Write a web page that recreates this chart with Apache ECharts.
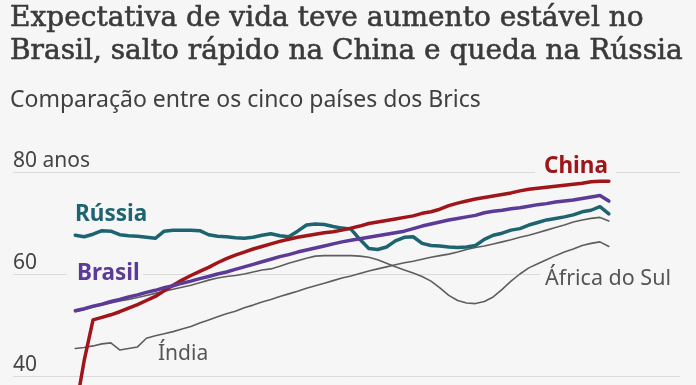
<!DOCTYPE html>
<html>
<head>
<meta charset="utf-8">
<script src="https://cdn.jsdelivr.net/npm/echarts@6/dist/echarts.min.js"></script>
<style>
html,body{margin:0;padding:0;background:#f6f6f6;}
#chart{width:696px;height:385px;}
</style>
</head>
<body>
<div id="chart"></div>
<script>
// ---- Data (life expectancy, years 1960–2020) ----
const firstYear = 1960;
const lastYear = 2020;
const years = [];
for (let y = firstYear; y <= lastYear; y++) years.push(y);

const china = [
  33.0, 43.0, 51.0, 51.5, 52.0, 52.6, 53.3, 54.0, 54.8, 55.6,
  56.7, 57.8, 58.8, 59.7, 60.5, 61.3, 62.2, 63.0, 63.7, 64.3,
  64.9, 65.4, 65.9, 66.4, 66.8, 67.2, 67.5, 67.8, 68.1, 68.3,
  68.6, 69.0, 69.4, 69.9, 70.2, 70.5, 70.8, 71.1, 71.4, 71.9,
  72.2, 72.7, 73.4, 73.9, 74.3, 74.7, 75.0, 75.3, 75.6, 75.9,
  76.3, 76.6, 76.8, 77.0, 77.2, 77.4, 77.6, 77.8, 78.1, 78.2,
  78.2
];
const brasil = [
  52.8, 53.2, 53.7, 54.1, 54.6, 55.0, 55.5, 55.9, 56.4, 56.8,
  57.3, 57.7, 58.2, 58.6, 59.1, 59.5, 60.0, 60.4, 60.9, 61.4,
  61.9, 62.4, 62.9, 63.4, 63.8, 64.3, 64.7, 65.1, 65.5, 65.9,
  66.3, 66.6, 66.9, 67.2, 67.5, 67.8, 68.1, 68.4, 68.9, 69.4,
  69.8, 70.2, 70.6, 70.9, 71.2, 71.5, 72.0, 72.3, 72.5, 72.8,
  73.0, 73.3, 73.6, 73.8, 74.1, 74.3, 74.5, 74.8, 75.1, 75.4,
  74.3
];
const russia = [
  67.6, 67.3, 67.8, 68.5, 68.4, 67.7, 67.5, 67.4, 67.2, 67.0,
  68.4, 68.6, 68.6, 68.6, 68.5, 67.7, 67.4, 67.3, 67.1, 67.0,
  67.2, 67.6, 67.9, 67.5, 67.3, 68.4, 69.6, 69.8, 69.7, 69.3,
  69.0, 68.8, 66.8, 65.0, 64.8, 65.3, 66.5, 67.2, 67.3, 66.0,
  65.6, 65.5, 65.3, 65.2, 65.3, 65.6, 66.8, 67.6, 68.0, 68.6,
  68.9, 69.6, 70.1, 70.6, 70.9, 71.2, 71.6, 72.2, 72.5, 73.2,
  71.8
];
const africaDoSul = [
  52.6, 53.0, 53.5, 53.9, 54.3, 54.7, 55.0, 55.4, 55.8, 56.2,
  56.6, 57.0, 57.4, 57.8, 58.3, 58.8, 59.2, 59.5, 59.7, 60.0,
  60.4, 60.8, 61.0, 61.5, 62.1, 62.6, 63.1, 63.5, 63.6, 63.6,
  63.6, 63.6, 63.5, 63.3, 62.8, 62.1, 61.4, 60.8, 60.2, 59.5,
  58.6, 57.3, 55.8, 54.8, 54.3, 54.2, 54.6, 55.5, 57.0, 58.6,
  60.0, 61.2, 62.0, 62.8, 63.6, 64.3, 64.9, 65.6, 66.0, 66.3,
  65.4
];
const india = [
  45.4, 45.6, 45.9, 46.3, 46.5, 45.1, 45.4, 45.7, 47.4, 47.9,
  48.3, 48.7, 49.2, 49.7, 50.4, 51.0, 51.6, 52.2, 52.7, 53.4,
  53.9, 54.5, 55.0, 55.6, 56.1, 56.6, 57.2, 57.7, 58.2, 58.7,
  59.2, 59.6, 60.1, 60.6, 61.0, 61.4, 61.8, 62.2, 62.5, 62.9,
  63.3, 63.6, 63.9, 64.3, 64.8, 65.2, 65.5, 65.9, 66.3, 66.7,
  67.2, 67.6, 68.1, 68.6, 69.1, 69.6, 70.2, 70.6, 70.9, 71.1,
  70.4
];
const yTicks = [20, 40, 60, 80];
const yTopLabel = '80 anos';

const titleText = 'Expectativa de vida teve aumento estável no\nBrasil, salto rápido na China e queda na Rússia';
const subtitleText = 'Comparação entre os cinco países dos Brics';

// ---- Styling ----
const BG = '#f6f6f6';
const C_CHINA = '#a0151a';
const C_BRASIL = '#5b3a98';
const C_RUSSIA = '#1d6470';
const C_GRAY = '#5e5e5e';
const C_LABEL_GRAY = '#555555';

function pairs(vals) { return years.map((y, i) => [y, vals[i]]); }

function line(name, vals, color, width) {
  return {
    name, type: 'line', data: pairs(vals), showSymbol: false, symbol: 'none',
    lineStyle: { color, width, cap: 'round', join: 'round' },
    itemStyle: { color }, emphasis: { disabled: true }, silent: true,
    clip: true
  };
}

const chart = echarts.init(document.getElementById('chart'), null, { renderer: 'canvas' });
chart.setOption({
  backgroundColor: BG,
  animation: false,
  title: [
    { text: titleText, left: 10, top: 2, padding: 0,
      textStyle: { fontFamily: 'DejaVu Serif', fontSize: 28, lineHeight: 33, fontWeight: 'normal',
        color: '#3a3a3a', textBorderColor: '#3a3a3a', textBorderWidth: 0.6 } },
    { text: subtitleText, left: 10, top: 87, padding: 0,
      textStyle: { fontFamily: 'Noto Sans', fontSize: 23, lineHeight: 26, fontWeight: 'normal', color: '#404040' } }
  ],
  grid: { left: 13, right: 16, top: 172, height: 306, containLabel: false, outerBoundsMode: 'none' },
  xAxis: {
    type: 'value', min: 1953, max: 2028, show: false
  },
  yAxis: {
    type: 'value', min: yTicks[0], max: yTicks[yTicks.length - 1], interval: 20,
    axisLine: { show: false }, axisTick: { show: false },
    splitLine: { show: true, lineStyle: { color: '#dadada', width: 1 } },
    axisLabel: {
      inside: true, margin: 0, align: 'left', verticalAlign: 'bottom',
      fontFamily: 'Noto Sans', fontSize: 21, color: '#444444',
      padding: [0, 0, 0, 0],
      formatter: v => (v === 80 ? yTopLabel : (v === 20 ? '' : String(v)))
    }
  },
  series: [
    line('Índia', india, C_GRAY, 1.6),
    line('África do Sul', africaDoSul, C_GRAY, 1.6),
    line('Rússia', russia, C_RUSSIA, 3.5),
    line('China', china, C_CHINA, 3.5),
    line('Brasil', brasil, C_BRASIL, 3.5)
  ],
  graphic: [
    { type: 'text', z: 100, x: 535, y: 166.5, style: {
      text: 'China', fill: C_CHINA, font: 'bold 22.5px "Noto Sans"', verticalAlign: 'middle',
      backgroundColor: BG, padding: [0, 8, 0, 9], lineHeight: 22 } },
    { type: 'text', z: 100, x: 75, y: 214.5, style: {
      text: 'Rússia', fill: C_RUSSIA, font: 'bold 22.5px "Noto Sans"', verticalAlign: 'middle' } },
    { type: 'text', z: 100, x: 67, y: 273.5, style: {
      text: 'Brasil', fill: C_BRASIL, font: 'bold 22.5px "Noto Sans"', verticalAlign: 'middle',
      backgroundColor: BG, padding: [0, 3, 0, 10], lineHeight: 20 } },
    { type: 'text', z: 100, x: 540, y: 278.5, style: {
      text: 'África do Sul', fill: C_LABEL_GRAY, font: '21.5px "Noto Sans"', verticalAlign: 'middle',
      backgroundColor: BG, padding: [0, 12, 0, 5], lineHeight: 20 } },
    { type: 'text', z: 100, x: 158, y: 354.5, style: {
      text: 'Índia', fill: C_LABEL_GRAY, font: '21px "Noto Sans"', verticalAlign: 'middle' } }
  ]
});
</script>
</body>
</html>
